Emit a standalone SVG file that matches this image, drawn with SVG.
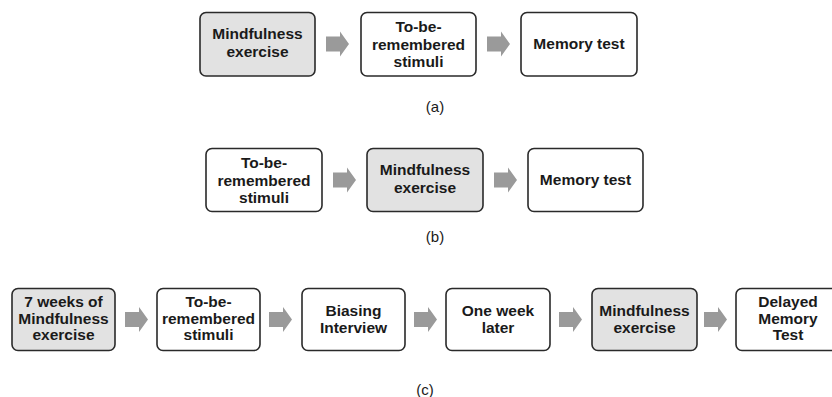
<svg xmlns="http://www.w3.org/2000/svg" width="832" height="397" viewBox="0 0 832 397">
<style>
.box{fill:#ffffff;stroke:#2a2a2a;stroke-width:1.6}
.hl{fill:#e2e2e2}
.t{font-family:"Liberation Sans",Arial,sans-serif;font-weight:bold;font-size:15.5px;fill:#1a1a1a;text-anchor:middle}
.cap{font-family:"Liberation Sans",Arial,sans-serif;font-size:15px;fill:#1a1a1a;text-anchor:middle}
.arr{fill:#9a9a9a}
</style>
<defs>
<path id="ar" d="M0,-7.5 H14 V-12.5 L23,0 L14,12.5 V7.5 H0 Z"/>
</defs>
<rect width="832" height="397" fill="#ffffff"/>
<g id="connectors" class="arr">
<use href="#ar" x="326" y="44"/>
<use href="#ar" x="487" y="44"/>
<use href="#ar" x="333" y="180"/>
<use href="#ar" x="494" y="180"/>
<use href="#ar" x="125" y="319.5"/>
<use href="#ar" x="269" y="319.5"/>
<use href="#ar" x="414" y="319.5"/>
<use href="#ar" x="559" y="319.5"/>
<use href="#ar" x="704" y="319.5"/>
</g>
<g id="a1"><rect class="box hl" x="200" y="12.5" width="115" height="63.5" rx="6"/><text class="t" x="257.5" y="39">Mindfulness</text><text class="t" x="257.5" y="57">exercise</text></g>
<g id="a2"><rect class="box" x="361" y="12.5" width="115" height="63.5" rx="6"/><text class="t" x="418.5" y="32">To-be-</text><text class="t" x="418.5" y="50">remembered</text><text class="t" x="418.5" y="67">stimuli</text></g>
<g id="a3"><rect class="box" x="521" y="12.5" width="116" height="63.5" rx="6"/><text class="t" x="579" y="49">Memory test</text></g>
<text class="cap" x="435" y="112">(a)</text>
<g id="b1"><rect class="box" x="206" y="148.5" width="116" height="63" rx="6"/><text class="t" x="264" y="168">To-be-</text><text class="t" x="264" y="186">remembered</text><text class="t" x="264" y="203">stimuli</text></g>
<g id="b2"><rect class="box hl" x="367" y="148.5" width="116" height="63" rx="6"/><text class="t" x="425" y="175">Mindfulness</text><text class="t" x="425" y="193">exercise</text></g>
<g id="b3"><rect class="box" x="528" y="148.5" width="115" height="63" rx="6"/><text class="t" x="585.5" y="185">Memory test</text></g>
<text class="cap" x="435" y="242">(b)</text>
<g id="c1"><rect class="box hl" x="12" y="288.5" width="103" height="62" rx="6"/><text class="t" x="63.5" y="307">7 weeks of</text><text class="t" x="63.5" y="324">Mindfulness</text><text class="t" x="63.5" y="340">exercise</text></g>
<g id="c2"><rect class="box" x="157" y="288.5" width="103" height="62" rx="6"/><text class="t" x="208.5" y="307">To-be-</text><text class="t" x="208.5" y="324">remembered</text><text class="t" x="208.5" y="340">stimuli</text></g>
<g id="c3"><rect class="box" x="302" y="288.5" width="103" height="62" rx="6"/><text class="t" x="353.5" y="316">Biasing</text><text class="t" x="353.5" y="333">Interview</text></g>
<g id="c4"><rect class="box" x="446" y="288.5" width="104" height="62" rx="6"/><text class="t" x="498" y="316">One week</text><text class="t" x="498" y="333">later</text></g>
<g id="c5"><rect class="box hl" x="592" y="288.5" width="105" height="62" rx="6"/><text class="t" x="644.5" y="316">Mindfulness</text><text class="t" x="644.5" y="333">exercise</text></g>
<g id="c6"><rect class="box" x="736" y="288.5" width="104" height="62" rx="6"/><text class="t" x="788" y="307">Delayed</text><text class="t" x="788" y="324">Memory</text><text class="t" x="788" y="340">Test</text></g>
<text class="cap" x="425" y="395">(c)</text>
</svg>
